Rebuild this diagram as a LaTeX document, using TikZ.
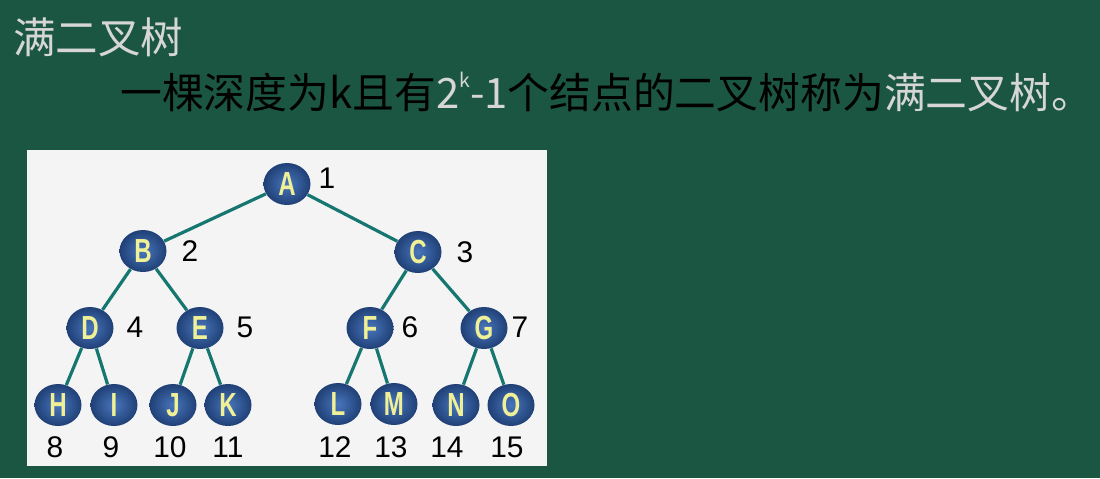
\documentclass[tikz,border=0pt]{standalone}
\usepackage{fontspec}
\usetikzlibrary{shapes.geometric}
\newfontfamily\cjk{Noto Sans CJK SC}
\newfontfamily\arialf{Liberation Sans}
\definecolor{bgreen}{RGB}{27,86,66}
\definecolor{boxbg}{RGB}{244,244,244}
\definecolor{lgray}{RGB}{214,214,214}
\definecolor{edgec}{RGB}{22,118,112}
\definecolor{ballin}{RGB}{72,118,188}
\definecolor{ballout}{RGB}{32,64,118}
\definecolor{lettc}{RGB}{240,240,150}
\newlength{\pxu}\setlength{\pxu}{0.02cm}
\tikzset{
  treenode/.style={ellipse, minimum width=47\pxu, minimum height=42\pxu, inner sep=0pt,
    inner color=ballin, outer color=ballout,
    font=\arialf\bfseries\fontsize{19}{19}\selectfont, text=lettc},
  treeedge/.style={draw=edgec, line width=3.2\pxu},
  numlab/.style={font=\arialf\fontsize{17}{17}\selectfont, text=black, inner sep=0pt}
}
\newcommand{\lt}[1]{\scalebox{0.72}[1]{#1}}
\begin{document}
\begin{tikzpicture}[x=0.02cm,y=-0.02cm]
\fill[bgreen] (0,0) rectangle (1100,478);
\useasboundingbox (0,0) rectangle (1100,478);
\node[anchor=west, inner sep=0pt, text=lgray, font=\cjk\fontsize{24.2}{24.2}\selectfont] (title) at (13,37) {满二叉树};
\node[anchor=west, inner sep=0pt, text=black, font=\cjk\fontsize{23.8}{23.8}\selectfont] (def) at (120,92)
  {一棵深度为k且有\textcolor{lgray}{2\raisebox{0.5em}{\fontsize{11}{11}\selectfont k}-1}个结点的二叉树称为\textcolor{lgray}{满二叉树。}};
\fill[boxbg] (27,150) rectangle (547,466);
\node[treenode] (A) at (287,184) {\lt{A}};
\node[treenode] (B) at (143,251) {\lt{B}};
\node[treenode] (C) at (418,252) {\lt{C}};
\node[treenode] (D) at (90,328) {\lt{D}};
\node[treenode] (E) at (200,328) {\lt{E}};
\node[treenode] (F) at (370,328) {\lt{F}};
\node[treenode] (G) at (484,328) {\lt{G}};
\node[treenode] (H) at (58,405) {\lt{H}};
\node[treenode] (I) at (114,405) {\lt{I}};
\node[treenode] (J) at (173,405) {\lt{J}};
\node[treenode] (K) at (228,405) {\lt{K}};
\node[treenode] (L) at (338,404) {\lt{L}};
\node[treenode] (M) at (394,404) {\lt{M}};
\node[treenode] (N) at (456,405) {\lt{N}};
\node[treenode] (O) at (511,405) {\lt{O}};
\foreach \p/\c in {A/B,A/C,B/D,B/E,C/F,C/G,D/H,D/I,E/J,E/K,F/L,F/M,G/N,G/O}
  \draw[treeedge] (\p) -- (\c);
\node[numlab] (n1) at (327,178) {1};
\node[numlab] (n2) at (190,251) {2};
\node[numlab] (n3) at (465,252) {3};
\node[numlab] (n4) at (135,327) {4};
\node[numlab] (n5) at (245,327) {5};
\node[numlab] (n6) at (410,327) {6};
\node[numlab] (n7) at (520,327) {7};
\node[numlab] (n8) at (55,447) {8};
\node[numlab] (n9) at (111,447) {9};
\node[numlab] (n10) at (170,447) {10};
\node[numlab] (n11) at (228,447) {11};
\node[numlab] (n12) at (335,447) {12};
\node[numlab] (n13) at (391,447) {13};
\node[numlab] (n14) at (447,447) {14};
\node[numlab] (n15) at (507,447) {15};
\end{tikzpicture}
\end{document}
